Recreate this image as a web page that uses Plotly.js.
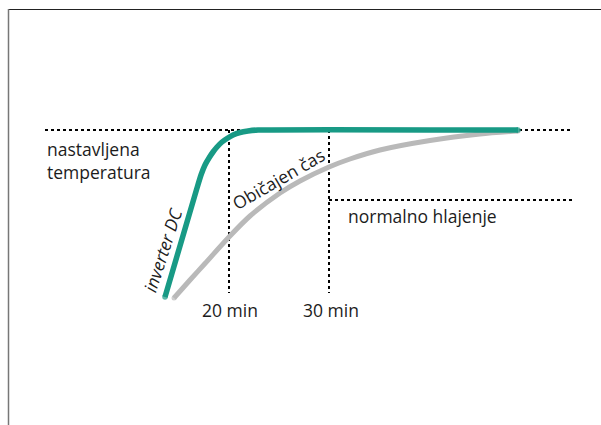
<!DOCTYPE html>
<html>
<head>
<meta charset="utf-8">
<script src="https://cdn.plot.ly/plotly-3.0.1.min.js"></script>
<style>html,body{margin:0;padding:0;background:#fff;}#chart{width:601px;height:425px;}</style>
</head>
<body>
<div id="chart"></div>
<script>
// time in minutes, temperature progress in relative units (100 = set temperature)
const inverterTime = [13.6, 16.8, 17.2, 17.6, 18.0, 18.4, 18.8, 19.3, 19.8, 20.4, 21.1, 21.9, 22.9, 48.9];
const inverterTemp = [16.5, 71, 77.5, 82.5, 86, 89, 91.5, 94, 95.75, 97.5, 98.75, 99.5, 100, 100];
const normalTime = [14.5, 16.1, 17.6, 20.0, 22.1, 25.1, 27.1, 30.0, 32.1, 35.1, 40.1, 45.1, 48.9];
const normalTemp = [16, 25, 33.25, 46.5, 57, 68.5, 74.5, 81.5, 85.5, 90, 94.75, 98, 99.5];
const setTemp = 100;
const normalLevel = 65;
const markTimes = [20, 30];
const markLabels = ["20 min", "30 min"];
const seriesLabels = ["inverter DC", "Običajen čas"];
const levelLabels = ["nastavljena<br>temperatura", "normalno hlajenje"];

const teal = "#189a85";
const grey = "#b9b9b9";
const ink = "#1c1c1c";
const font = "Open Sans";
const dot = {color: "#000", width: 2, dash: "3px,3px"};

function ends(n, s) { return Array.from({length: n}, (_, i) => (i === 0 || i === n - 1) ? s : 0.1); }

const traces = [
  {x: [1.6, 54.3], y: [setTemp, setTemp], mode: "lines", line: dot, hoverinfo: "skip"},
  {x: [markTimes[0], markTimes[0]], y: [setTemp, 18.5], mode: "lines", line: dot, hoverinfo: "skip"},
  {x: [markTimes[1], markTimes[1]], y: [setTemp, 18.5], mode: "lines", line: dot, hoverinfo: "skip"},
  {x: [markTimes[1], 54.3], y: [normalLevel, normalLevel], mode: "lines", line: dot, hoverinfo: "skip"},
  {x: normalTime, y: normalTemp, mode: "lines+markers", line: {color: grey, width: 5, shape: "spline", smoothing: 0.8}, marker: {color: grey, size: ends(normalTime.length, 5), line: {width: 0}}},
  {x: inverterTime, y: inverterTemp, mode: "lines+markers", line: {color: teal, width: 5.5, shape: "spline", smoothing: 0.5}, marker: {color: teal, size: ends(inverterTime.length, 5.5), line: {width: 0}}}
];

const tf = {family: font, size: 17.5, color: ink};
const annotations = [
  {x: 1.6, y: 85, text: levelLabels[0], xanchor: "left", yanchor: "middle", align: "left", showarrow: false, font: tf},
  {x: 31.7, y: 57, text: levelLabels[1], xanchor: "left", yanchor: "middle", showarrow: false, font: tf},
  {x: markTimes[0] + 0.1, y: 10, text: markLabels[0], xanchor: "center", yanchor: "middle", showarrow: false, font: tf},
  {x: markTimes[1] + 0.2, y: 10, text: markLabels[1], xanchor: "center", yanchor: "middle", showarrow: false, font: tf},
  {x: 13.35, y: 40, text: seriesLabels[0], textangle: -72, xanchor: "center", yanchor: "middle", showarrow: false, font: Object.assign({}, tf, {style: "italic"})},
  {x: 24.9, y: 75.5, text: seriesLabels[1], textangle: -30, xanchor: "center", yanchor: "middle", showarrow: false, font: tf}
];

const layout = {
  width: 601, height: 425,
  margin: {l: 0, r: 0, t: 0, b: 0},
  paper_bgcolor: "#fff", plot_bgcolor: "#fff",
  showlegend: false,
  xaxis: {range: [-2.9, 57.2], visible: false, fixedrange: true},
  yaxis: {range: [-47.5, 165], visible: false, fixedrange: true},
  annotations: annotations,
  shapes: [
    {type: "line", xref: "paper", yref: "paper", x0: 8/601, x1: 1, y0: 1 - 9.5/425, y1: 1 - 9.5/425, line: {color: "#222", width: 1}},
    {type: "line", xref: "paper", yref: "paper", x0: 8.5/601, x1: 8.5/601, y0: 1 - 9/425, y1: 0, line: {color: "#777", width: 1.5}}
  ]
};

Plotly.newPlot("chart", traces, layout, {staticPlot: true, displayModeBar: false});
</script>
</body>
</html>
